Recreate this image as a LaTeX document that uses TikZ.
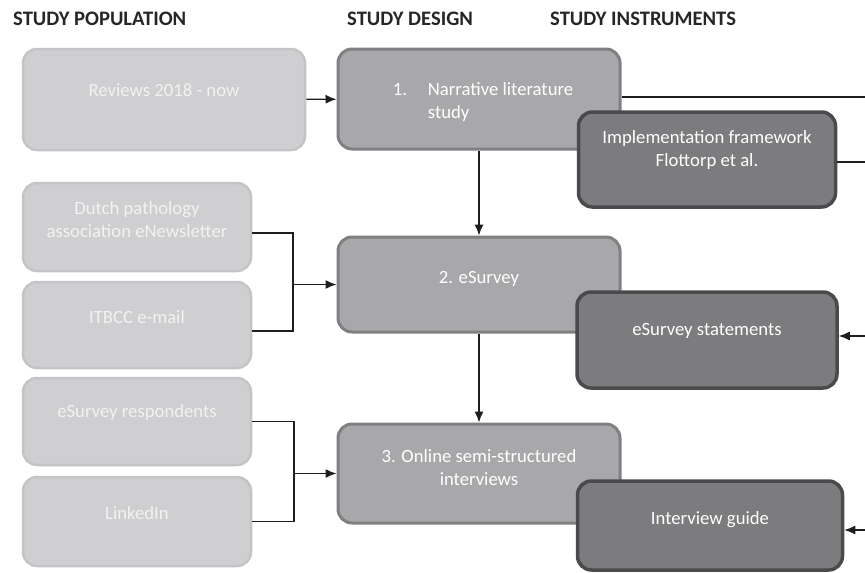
\documentclass[tikz,border=0pt]{standalone}
\usepackage{fontspec}
\setmainfont{Carlito}
\usetikzlibrary{arrows.meta}

\definecolor{lightfill}{HTML}{CFCFD1}
\definecolor{lightline}{HTML}{C4C4C6}
\definecolor{midfill}{HTML}{A8A8AA}
\definecolor{midline}{HTML}{808082}
\definecolor{darkfill}{HTML}{7C7C7E}
\definecolor{darkline}{HTML}{4A4A4C}
\definecolor{wire}{HTML}{1E1E1E}

\begin{document}
\begin{tikzpicture}[x=1pt, y=-1pt,
  popbox/.style={draw=lightline, fill=lightfill, line width=2.5pt, rounded corners=14pt, inner sep=0pt},
  designbox/.style={draw=midline, fill=midfill, line width=3pt, rounded corners=14pt, inner sep=0pt},
  toolbox/.style={draw=darkline, fill=darkfill, line width=3.5pt, rounded corners=14pt, inner sep=0pt},
  boxtext/.style={text=white, align=center, inner sep=0pt, font=\fontsize{18.7}{23}\selectfont},
  heading/.style={anchor=base west, inner sep=0pt, font=\fontsize{20.6}{24}\selectfont\bfseries, text=black!85},
  wire/.style={draw=wire, line width=1.3pt},
  >={Latex[length=11pt,width=9pt]}]
  \useasboundingbox (0,0) rectangle (865,573);

  % column headings
  \node[heading] (hpop) at (13,25) {STUDY POPULATION};
  \node[heading] (hdes) at (347,25) {STUDY DESIGN};
  \node[heading] (hins) at (550,25) {STUDY INSTRUMENTS};

  % study population
  \node[popbox, minimum width=282, minimum height=101] (rev) at (164,99.5) {};
  \node[boxtext, text=white!95!black] (revt) at ([yshift=9pt]rev.center) {Reviews 2018 - now};
  \node[popbox, minimum width=228, minimum height=88] (dutch) at (137,227) {};
  \node[boxtext, text=white!95!black] (dutcht) at ([yshift=7pt]dutch.center) {Dutch pathology\\association eNewsletter};
  \node[popbox, minimum width=228, minimum height=86] (itbcc) at (137,325) {};
  \node[boxtext, text=white!95!black] (itbcct) at ([yshift=8pt]itbcc.center) {ITBCC e-mail};
  \node[popbox, minimum width=228, minimum height=87] (resp) at (137,421.5) {};
  \node[boxtext, text=white!95!black] (respt) at ([yshift=9pt]resp.center) {eSurvey respondents};
  \node[popbox, minimum width=228, minimum height=89] (linked) at (137,521.5) {};
  \node[boxtext, text=white!95!black] (linkedt) at ([yshift=8pt]linked.center) {LinkedIn};

  % study design
  \node[designbox, minimum width=282, minimum height=100] (nar) at (479,99) {};
  \node[boxtext, align=left] (nart) at ([xshift=4pt, yshift=-3pt]nar.center)
    {\makebox[35pt][l]{1.}Narrative literature\\\hspace*{35pt}study};
  \node[designbox, minimum width=282, minimum height=95] (esv) at (479,284.5) {};
  \node[boxtext] (esvt) at ([yshift=6pt]esv.center) {2. eSurvey};
  \node[designbox, minimum width=282, minimum height=99] (onl) at (479,473.5) {};
  \node[boxtext] (onlt) at ([yshift=6pt]onl.center) {3. Online semi-structured\\interviews};

  % study instruments
  \node[toolbox, minimum width=257, minimum height=95] (frame) at (707,159.5) {};
  \node[boxtext] (framet) at ([yshift=9pt]frame.center) {Implementation framework\\Flottorp et al.};
  \node[toolbox, minimum width=260, minimum height=96] (stm) at (707,340) {};
  \node[boxtext] (stmt) at ([yshift=9pt]stm.center) {eSurvey statements};
  \node[toolbox, minimum width=265, minimum height=89] (guide) at (710,525.5) {};
  \node[boxtext] (guidet) at ([yshift=6pt]guide.center) {Interview guide};

  % connectors
  \draw[wire, ->] (rev) -- (nar);
  \draw[wire, ->] (nar) -- (esv);
  \draw[wire, ->] (esv) -- (onl);

  \coordinate (j1) at (esv.west -| 293,0);
  \draw[wire] ([yshift=-6pt]dutch.east) -| (j1) |- ([yshift=-6pt]itbcc.east);
  \draw[wire, ->] (j1) -- (esv);
  \coordinate (j2) at (onl.west -| 294,0);
  \draw[wire] (resp.east) -| (j2) |- (linked.east);
  \draw[wire, ->] (j2) -- (onl);

  % lines leaving the right edge
  \coordinate (narout) at (865,97);
  \coordinate (frameout) at (865,162);
  \coordinate (stmin) at (865,336);
  \coordinate (guidein) at (865,530);
  \draw[wire] (narout -| nar.east) -- (narout);
  \draw[wire] (frameout -| frame.east) -- (frameout);
  \draw[wire, ->] (stmin) -- (stmin -| stm.east);
  \draw[wire, ->] (guidein) -- (guidein -| guide.east);
\end{tikzpicture}
\end{document}
